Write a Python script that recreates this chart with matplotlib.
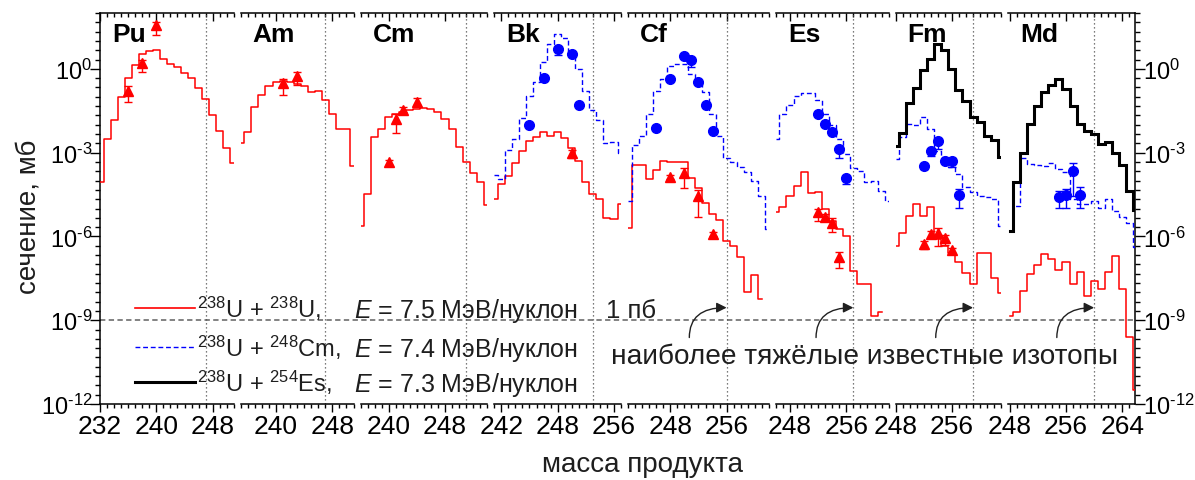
import numpy as np
import matplotlib
matplotlib.use("Agg")
import matplotlib.pyplot as plt
import matplotlib.transforms as mtransforms
from matplotlib.lines import Line2D
from matplotlib.ticker import (FixedLocator, FixedFormatter, FuncFormatter,
                               MultipleLocator, NullFormatter, NullLocator)

plt.rcParams["font.family"] = ["Liberation Sans", "DejaVu Sans"]
plt.rcParams["mathtext.fontset"] = "custom"
plt.rcParams["mathtext.rm"] = "Liberation Sans"
plt.rcParams["mathtext.it"] = "Liberation Sans:italic"
plt.rcParams["mathtext.bf"] = "Liberation Sans:bold"

# ---------------------------------------------------------------- panels
elements = ["Pu", "Am", "Cm", "Bk", "Cf", "Es", "Fm", "Md"]
mass_lo = [232, 235, 236, 239, 242, 246, 248, 247.8]
mass_hi = [251, 251, 254, 257, 262, 262, 263, 265.8]
heaviest_known = [247, 247, 251, 253, 256, 257, 259, 260]
tick_mass = [[232, 240, 248], [240, 248], [240, 248], [240, 248, 256],
             [248, 256], [248, 256], [248, 256], [248, 256, 264]]
tick_text = [["232", "240", "248"], ["240", "248"], ["240", "248"],
             ["242", "248", "256"], ["248", "256"], ["248", "256"],
             ["248", "256"], ["248", "256", "264"]]

# ------------------------------------------- calculated cross sections
# lg(sigma / mb), one value per mass number, first value at *_start
# 238U + 238U, E = 7.5 MeV/nucleon
uu_pu_start, uu_pu = 232, [-4.05, -2.51, -1.82, -1.01, -0.32, 0.14, 0.54, 0.63, 0.66, 0.36,
                           0.18, 0.06, -0.14, -0.32, -0.69, -1.08, -1.65, -2.21, -2.84, -3.37]
uu_am_start, uu_am = 235, [-2.65, -2.27, -1.37, -0.92, -0.60, -0.48, -0.45, -0.48, -0.54,
                           -0.62, -0.84, -0.81, -1.11, -1.61, -2.17, -2.17, -3.47]
uu_cm_start, uu_cm = 236, [-5.62, -4.48, -2.45, -2.15, -1.73, -1.61, -1.55, -1.49, -1.45,
                           -1.41, -1.43, -1.53, -1.79, -2.15, -2.81, -3.35, -3.73, -4.06, -4.87]
uu_bk_start, uu_bk = 239, [-4.66, -4.12, -3.82, -3.37, -2.93, -2.60, -2.45, -2.27, -2.41,
                           -2.27, -2.48, -2.84, -3.29, -4.04, -4.48, -4.66, -5.35, -5.38, -4.84]
uu_cf_start, uu_cf = 242, [-5.71, -3.44, -3.44, -3.94, -3.61, -3.29, -3.32, -3.32, -3.35,
                           -3.92, -4.28, -4.80, -5.20, -5.40, -6.15, -6.33, -6.75, -7.98,
                           -7.37, -8.24]
uu_es_start, uu_es = 246, [-5.11, -4.96, -4.54, -4.21, -3.68, -4.45, -4.42, -5.02, -5.44,
                           -5.73, -5.97, -7.23, -7.71, -7.71, -8.86, -8.72]
uu_fm_start, uu_fm = 248, [-6.33, -5.89, -5.28, -4.84, -5.28, -4.96, -6.09, -6.33, -6.60,
                           -6.93, -7.31, -7.71, -6.59, -6.59, -7.50, -8.03]
uu_md_start, uu_md = 248, [-8.86, -8.72, -7.95, -7.35, -7.03, -6.64, -6.81, -7.19, -6.93,
                           -7.71, -7.29, -8.15, -7.59, -7.89, -7.26, -6.69, -7.89, -9.61, -11.5]

# 238U + 248Cm, E = 7.4 MeV/nucleon
ucm_bk_start, ucm_bk = 239, [-3.80, -3.95, -2.89, -2.51, -1.75, -0.98, -0.48, 0.24, 0.90,
                             1.25, 1.11, 0.63, -0.02, -0.78, -1.46, -1.82, -2.65, -2.61, -3.00]
ucm_cf_start, ucm_cf = 242, [-4.72, -2.72, -2.39, -1.61, -0.78, -0.36, 0.12, 0.18, 0.18,
                             -0.18, -0.42, -0.84, -1.61, -2.40, -3.18, -3.35, -3.52, -3.70,
                             -4.00, -4.54, -5.75]
ucm_es_start, ucm_es = 246, [-2.51, -1.61, -1.29, -0.96, -0.86, -0.86, -1.10, -1.61, -2.00,
                             -2.50, -3.05, -3.56, -3.64, -4.06, -4.00, -4.36, -4.72]
ucm_fm_start, ucm_fm = 248, [-3.23, -2.45, -1.97, -2.01, -1.73, -2.15, -2.93, -3.16, -3.52,
                             -3.76, -4.24, -4.40, -4.54, -4.60, -4.66, -5.62]
ucm_md_start, ucm_md = 248, [-5.80, -4.90, -3.20, -3.41, -3.45, -3.47, -3.36, -3.58, -3.70,
                             -4.66, -4.84, -4.84, -4.72, -4.99, -4.66, -5.08, -5.32, -5.52, -6.39]

# 238U + 254Es, E = 7.3 MeV/nucleon
ues_fm_start, ues_fm = 248, [-2.75, -2.29, -1.22, -0.69, -0.03, 0.36, 0.90, 0.66, 0.00,
                             -0.74, -1.14, -1.73, -1.89, -2.39, -2.53, -3.16]
ues_md_start, ues_md = 248, [-5.80, -4.06, -3.01, -1.97, -1.34, -0.84, -0.57, -0.38, -0.72,
                             -1.34, -1.97, -2.21, -2.33, -2.69, -2.63, -3.01, -3.44, -4.36, -5.04]

# ------------------------------------------------ measured cross sections
# mass, lg(sigma), lower and upper end of the error bar (lg)
pu_m, pu_v = [236, 238, 240], [-0.78, 0.20, 1.58]
pu_lo, pu_hi = [-1.17, -0.12, 1.23], [-0.62, 0.30, 1.67]
am_m, am_v = [241, 243], [-0.51, -0.24]
am_lo, am_hi = [-0.93, -0.57], [-0.36, -0.10]
cm_m, cm_v = [240, 241, 242, 244], [-3.35, -1.79, -1.46, -1.17]
cm_lo, cm_hi = [-3.45, -2.31, -1.55, -1.29], [-3.28, -1.61, -1.38, -1.04]
bk_r_m, bk_r_v = [250], [-3.02]
bk_r_lo, bk_r_hi = [-3.20], [-2.90]
bk_b_m, bk_b_v = [244, 246, 248, 250, 251], [-2.01, -0.33, 0.72, 0.54, -1.31]
bk_b_lo, bk_b_hi = [-2.08, -0.40, 0.50, 0.47, -1.38], [-1.95, -0.27, 0.78, 0.60, -1.25]
cf_r_m, cf_r_v = [248, 250, 252, 254], [-3.86, -3.73, -4.54, -5.91]
cf_r_lo, cf_r_hi = [-3.95, -4.28, -5.32, -6.00], [-3.80, -3.56, -4.33, -5.85]
cf_b_m, cf_b_v = [246, 248, 250, 251, 252, 253, 254], [-2.13, -0.36, 0.45, 0.33, -0.48, -1.31, -2.21]
cf_b_lo = [-2.20, -0.42, 0.38, 0.06, -0.55, -1.38, -2.28]
cf_b_hi = [-2.07, -0.30, 0.51, 0.40, -0.42, -1.25, -2.15]
es_r_m, es_r_v = [252, 253, 254, 255], [-5.11, -5.32, -5.53, -6.75]
es_r_lo, es_r_hi = [-5.44, -5.45, -5.85, -7.14], [-5.00, -5.20, -5.35, -6.57]
es_b_m, es_b_v = [252, 253, 254, 255, 256], [-1.61, -1.97, -2.27, -2.87, -3.91]
es_b_lo, es_b_hi = [-1.68, -2.04, -2.34, -3.20, -4.12], [-1.55, -1.90, -2.20, -2.80, -3.85]
fm_r_m, fm_r_v = [252, 253, 254, 255, 256], [-6.27, -5.91, -5.88, -6.07, -6.48]
fm_r_lo, fm_r_hi = [-6.45, -6.05, -6.33, -6.30, -6.60], [-6.15, -5.80, -5.71, -5.95, -6.40]
fm_b_m, fm_b_v = [252, 253, 254, 255, 256, 257], [-3.47, -2.95, -2.60, -3.29, -3.29, -4.52]
fm_b_lo = [-3.60, -3.11, -2.87, -3.35, -3.50, -4.99]
fm_b_hi = [-3.40, -2.90, -2.50, -3.20, -3.20, -4.30]
md_b_m, md_b_v = [255, 256, 257, 258], [-4.58, -4.52, -3.64, -4.52]
md_b_lo, md_b_hi = [-4.99, -4.99, -4.54, -4.99], [-4.36, -4.30, -3.38, -4.24]

RED, BLUE, BLACK = "#ff0000", "#0000ff", "#000000"
TXT = "#1e1e1e"

# ---------------------------------------------------------------- figure
W, H = 1195, 481
L, R, T, B = 100, 1135, 14, 405
GAP = 7
fig = plt.figure(figsize=(W / 100, H / 100), dpi=100)


def box(x0, x1):
    return [x0 / W, 1 - B / H, (x1 - x0) / W, (B - T) / H]


def at_px(x, y):
    return x / W, 1 - y / H


def decade_label(v, pos):
    p = int(round(np.log10(v)))
    exp = str(abs(p)) if p >= 0 else "\u2010" + str(abs(p))
    return r"$\mathregular{10^{%s}}$" % exp


YLIM = (1e-12, 1e2)

# frame carrying the shared log axis on both sides
ax0 = fig.add_axes(box(L, R))
ax0.set_yscale("log")
ax0.set_ylim(*YLIM)
ax0.set_xlim(0, 1)
ax0.patch.set_visible(False)
for s in ("top", "bottom"):
    ax0.spines[s].set_visible(False)
for s in ("left", "right"):
    ax0.spines[s].set_linewidth(1.1)
ax0.xaxis.set_major_locator(NullLocator())
ax0.xaxis.set_minor_locator(NullLocator())
ax0.yaxis.set_major_locator(FixedLocator([1e-12, 1e-9, 1e-6, 1e-3, 1e0]))
ax0.yaxis.set_minor_locator(FixedLocator(10.0 ** (np.arange(-36, 7) / 3.0)))
ax0.yaxis.set_major_formatter(FuncFormatter(decade_label))
ax0.yaxis.set_minor_formatter(NullFormatter())
ax0.tick_params(axis="y", which="both", direction="out", left=True, right=True,
                labelleft=True, labelright=True, labelsize=17, width=1)
ax0.tick_params(axis="y", which="major", length=7, pad=-1.5)
ax0.tick_params(axis="y", which="minor", length=3.5)
ax0.axhline(1e-9, color="#606060", lw=1.1, ls=(0, (3.5, 2.2)), zorder=1)


def draw_hist(ax, start, lg, **kw):
    m = start + np.arange(len(lg))
    ax.step(m, 10.0 ** np.asarray(lg), where="mid", **kw)


def draw_exp(ax, m, lg, lo, hi, color, marker, ms):
    y = 10.0 ** np.asarray(lg)
    yerr = [y - 10.0 ** np.asarray(lo), 10.0 ** np.asarray(hi) - y]
    ax.errorbar(m, y, yerr=yerr, fmt=marker, color=color, ms=ms, capsize=2.6,
                elinewidth=1.0, capthick=1.0, zorder=6)


red_kw = dict(color=RED, lw=1.1, zorder=3)
blue_kw = dict(color=BLUE, lw=1.0, ls=(0, (3.5, 2.0)), zorder=3)
black_kw = dict(color=BLACK, lw=2.2, zorder=4, solid_joinstyle="miter")

spans = [hi - lo for lo, hi in zip(mass_lo, mass_hi)]
unit = (R - L - GAP * (len(spans) - 1)) / sum(spans)

axes = []
x = L
for i, el in enumerate(elements):
    w = spans[i] * unit
    ax = fig.add_axes(box(x, x + w))
    x += w + GAP
    axes.append(ax)
    ax.set_yscale("log")
    ax.set_ylim(*YLIM)
    ax.set_xlim(mass_lo[i], mass_hi[i])
    ax.patch.set_visible(False)
    for s in ("left", "right", "top"):
        ax.spines[s].set_visible(False)
    ax.spines["bottom"].set_linewidth(1.1)
    ax.yaxis.set_major_locator(NullLocator())
    ax.yaxis.set_minor_locator(NullLocator())
    ax.xaxis.set_major_locator(FixedLocator(tick_mass[i]))
    ax.xaxis.set_major_formatter(FixedFormatter(tick_text[i]))
    ax.xaxis.set_minor_locator(MultipleLocator(1))
    ax.tick_params(axis="x", which="both", direction="out", bottom=True, top=False,
                   labelsize=19, width=1, pad=1.5)
    ax.tick_params(axis="x", which="major", length=5.5)
    ax.tick_params(axis="x", which="minor", length=3)

    sec = ax.secondary_xaxis("top")
    sec.xaxis.set_major_locator(FixedLocator(tick_mass[i]))
    sec.xaxis.set_minor_locator(MultipleLocator(1))
    sec.xaxis.set_major_formatter(NullFormatter())
    sec.tick_params(axis="x", which="both", direction="in", width=1, labeltop=False)
    sec.tick_params(axis="x", which="major", length=5.5)
    sec.tick_params(axis="x", which="minor", length=3)
    sec.spines["top"].set_linewidth(1.1)

    ax.axvline(heaviest_known[i], color="#505050", lw=0.9, ls=(0, (1, 2.2)), zorder=1)

    lab_tr = mtransforms.offset_copy(ax.transAxes, fig=fig, x=12, y=-28, units="dots")
    ax.text(0, 1, el, transform=lab_tr, fontsize=19, fontweight="bold",
            ha="left", va="baseline")

ax_pu, ax_am, ax_cm, ax_bk, ax_cf, ax_es, ax_fm, ax_md = axes

# 238U + 238U
draw_hist(ax_pu, uu_pu_start, uu_pu, **red_kw)
draw_hist(ax_am, uu_am_start, uu_am, **red_kw)
draw_hist(ax_cm, uu_cm_start, uu_cm, **red_kw)
draw_hist(ax_bk, uu_bk_start, uu_bk, **red_kw)
draw_hist(ax_cf, uu_cf_start, uu_cf, **red_kw)
draw_hist(ax_es, uu_es_start, uu_es, **red_kw)
draw_hist(ax_fm, uu_fm_start, uu_fm, **red_kw)
draw_hist(ax_md, uu_md_start, uu_md, **red_kw)
# 238U + 248Cm
draw_hist(ax_bk, ucm_bk_start, ucm_bk, **blue_kw)
draw_hist(ax_cf, ucm_cf_start, ucm_cf, **blue_kw)
draw_hist(ax_es, ucm_es_start, ucm_es, **blue_kw)
draw_hist(ax_fm, ucm_fm_start, ucm_fm, **blue_kw)
draw_hist(ax_md, ucm_md_start, ucm_md, **blue_kw)
# 238U + 254Es
draw_hist(ax_fm, ues_fm_start, ues_fm, **black_kw)
draw_hist(ax_md, ues_md_start, ues_md, **black_kw)

TRI, DOT = 7.5, 7
draw_exp(ax_pu, pu_m, pu_v, pu_lo, pu_hi, RED, "^", TRI)
draw_exp(ax_am, am_m, am_v, am_lo, am_hi, RED, "^", TRI)
draw_exp(ax_cm, cm_m, cm_v, cm_lo, cm_hi, RED, "^", TRI)
draw_exp(ax_bk, bk_r_m, bk_r_v, bk_r_lo, bk_r_hi, RED, "^", TRI)
draw_exp(ax_bk, bk_b_m, bk_b_v, bk_b_lo, bk_b_hi, BLUE, "o", DOT)
draw_exp(ax_cf, cf_r_m, cf_r_v, cf_r_lo, cf_r_hi, RED, "^", TRI)
draw_exp(ax_cf, cf_b_m, cf_b_v, cf_b_lo, cf_b_hi, BLUE, "o", DOT)
draw_exp(ax_es, es_r_m, es_r_v, es_r_lo, es_r_hi, RED, "^", TRI)
draw_exp(ax_es, es_b_m, es_b_v, es_b_lo, es_b_hi, BLUE, "o", DOT)
draw_exp(ax_fm, fm_r_m, fm_r_v, fm_r_lo, fm_r_hi, RED, "^", TRI)
draw_exp(ax_fm, fm_b_m, fm_b_v, fm_b_lo, fm_b_hi, BLUE, "o", DOT)
draw_exp(ax_md, md_b_m, md_b_v, md_b_lo, md_b_hi, BLUE, "o", DOT)

# arrows from the caption to the heaviest known isotopes
for ax, hk in zip(axes[4:], heaviest_known[4:]):
    ax.annotate("", xy=(hk, 10 ** -8.55), xytext=(hk - 5.3, 10 ** -9.62),
                annotation_clip=False,
                arrowprops=dict(arrowstyle="-|>", color="#202020", lw=1.0,
                                mutation_scale=15, shrinkA=0, shrinkB=0,
                                connectionstyle="angle3,angleA=90,angleB=0"))

# legend
legend_rows = [
    (309, RED, dict(lw=1.2), r"$^{238}$U + $^{238}$U,", r"$E$ = 7.5 МэВ/нуклон"),
    (348, BLUE, dict(lw=1.0, ls=(0, (3.5, 2.0))), r"$^{238}$U + $^{248}$Cm,", r"$E$ = 7.4 МэВ/нуклон"),
    (383, BLACK, dict(lw=2.2), r"$^{238}$U + $^{254}$Es,", r"$E$ = 7.3 МэВ/нуклон"),
]
for y, col, lkw, reac, energy in legend_rows:
    x0, y0 = at_px(135, y)
    x1, _ = at_px(195, y)
    fig.add_artist(Line2D([x0, x1], [y0, y0], color=col, transform=fig.transFigure, **lkw))
    fig.text(*at_px(197, y + 9), reac, fontsize=17, color=TXT, va="baseline", ha="left")
    fig.text(*at_px(354, y + 9), energy, fontsize=18, color=TXT, va="baseline", ha="left")

fig.text(*at_px(606, 318), "1 пб", fontsize=18.5, color=TXT, va="baseline", ha="left")
fig.text(*at_px(865, 364), "наиболее тяжёлые известные изотопы", fontsize=20.2,
         color=TXT, va="baseline", ha="center")
fig.text(*at_px(642, 472), "масса продукта", fontsize=20, color=TXT,
         va="baseline", ha="center")
fig.text(*at_px(29, 217), "сечение, мб", fontsize=20, color=TXT, rotation=90,
         va="center", ha="center")

fig.savefig("out.png", dpi=100)
